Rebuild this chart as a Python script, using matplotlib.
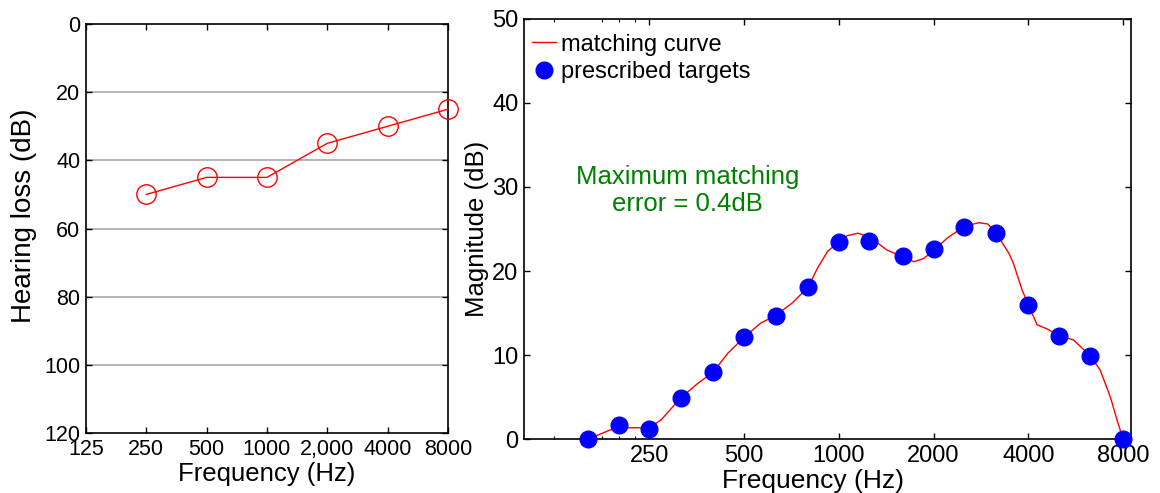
import matplotlib
matplotlib.use("Agg")
import matplotlib.pyplot as plt
from matplotlib.ticker import FixedLocator, NullLocator, NullFormatter

plt.rcParams['font.family'] = ['Liberation Sans', 'DejaVu Sans']

# audiogram
audio_freqs = [250, 500, 1000, 2000, 4000, 8000]
hearing_loss = [50, 45, 45, 35, 30, 25]
audio_ticks = [125, 250, 500, 1000, 2000, 4000, 8000]
audio_ticklabels = ['125', '250', '500', '1000', '2,000', '4000', '8000']

# prescribed gain targets (1/3 octave)
target_freqs = [160, 200, 250, 315, 400, 500, 630, 800, 1000, 1250,
                1600, 2000, 2500, 3150, 4000, 5000, 6300, 8000]
target_gain = [0.0, 1.7, 1.2, 4.9, 8.0, 12.1, 14.7, 18.1, 23.5, 23.6,
               21.8, 22.6, 25.2, 24.5, 16.0, 12.3, 9.9, 0.0]

# matching curve of the fitted filter
curve_freqs = [160, 175, 187, 200, 224, 250, 273, 315, 356, 400, 444, 500,
               565, 630, 712, 800, 855, 920, 1000, 1063, 1151, 1250, 1421,
               1600, 1734, 1862, 2000, 2207, 2500, 2785, 2972, 3150, 3473,
               3589, 3826, 4000, 4265, 4594, 5000, 5566, 6300, 6768, 7290,
               7710, 8000]
curve_gain = [0.0, 0.6, 1.05, 1.3, 1.35, 1.3, 2.3, 4.9, 6.6, 8.0, 10.2, 12.1,
              13.8, 14.7, 16.2, 18.1, 20.3, 22.3, 23.5, 24.2, 24.5, 24.1, 22.5,
              21.7, 21.1, 21.5, 22.4, 23.9, 25.3, 25.75, 25.6, 24.6, 22.1,
              20.9, 17.7, 16.0, 13.6, 13.1, 12.3, 11.8, 9.9, 8.2, 5.0,
              1.9, 0.0]
gain_ticks = [250, 500, 1000, 2000, 4000, 8000]
gain_minor = [125, 177, 200, 226]

fig = plt.figure(figsize=(11.6, 4.93), dpi=100)

# left: hearing loss
ax1 = fig.add_axes([0.0741, 0.1217, 0.3121, 0.8296])
ax1.plot(audio_freqs, hearing_loss, color='red', lw=1, marker='o', ms=14,
         mfc='none', mec='red', mew=1, clip_on=False, zorder=3)
ax1.set_xscale('log', base=2)
ax1.set_xlim(125, 8000)
ax1.set_ylim(120, 0)
ax1.xaxis.set_major_locator(FixedLocator(audio_ticks))
ax1.xaxis.set_minor_locator(NullLocator())
ax1.set_xticklabels(audio_ticklabels)
ax1.set_yticks(range(0, 121, 20))
for v in range(20, 101, 20):
    ax1.axhline(v, color='#a8a8a8', lw=1.2, zorder=1)
ax1.tick_params(direction='in', top=True, right=True, length=4, width=1,
                labelsize=15.5, pad=4)
ax1.set_xlabel('Frequency (Hz)', fontsize=18.5, labelpad=2)
ax1.set_ylabel('Hearing loss (dB)', fontsize=20, labelpad=4)
ax1.yaxis.set_label_coords(-0.135, 0.53)
for s in ax1.spines.values():
    s.set_linewidth(1.2)

# right: gain targets and matching curve
ax2 = fig.add_axes([0.4517, 0.1095, 0.5233, 0.852])
ax2.plot(curve_freqs, curve_gain, color='red', lw=1, label='matching curve',
         zorder=2)
ax2.plot(target_freqs, target_gain, ls='none', marker='o', ms=12,
         color='blue', label='prescribed targets', clip_on=False, zorder=3)
ax2.set_xscale('log')
ax2.set_xlim(100, 8480)
ax2.set_ylim(0, 50)
ax2.xaxis.set_major_locator(FixedLocator(gain_ticks))
ax2.xaxis.set_minor_locator(FixedLocator(gain_minor))
ax2.xaxis.set_minor_formatter(NullFormatter())
ax2.set_xticklabels([str(t) for t in gain_ticks])
ax2.set_yticks(range(0, 51, 10))
ax2.tick_params(which='major', direction='in', top=True, right=True,
                length=4, width=1, labelsize=17, pad=4)
ax2.tick_params(which='minor', direction='in', top=True, length=2, width=0.8)
ax2.set_xlabel('Frequency (Hz)', fontsize=19, labelpad=0)
ax2.xaxis.set_label_coords(0.476, -0.072)
ax2.set_ylabel('Magnitude (dB)', fontsize=18.5, labelpad=2)
for s in ax2.spines.values():
    s.set_linewidth(1.2)

ax2.legend(loc='upper left', bbox_to_anchor=(0.0, 0.985), frameon=False,
           fontsize=17, handlelength=1.0, handletextpad=0.2,
           borderaxespad=0.2, labelspacing=0.25, borderpad=0.15)
ax2.text(330, 29.6, 'Maximum matching\nerror = 0.4dB', color='#008000',
         fontsize=18.5, ha='center', va='center', linespacing=1.15)

fig.savefig('out.png', dpi=100)
